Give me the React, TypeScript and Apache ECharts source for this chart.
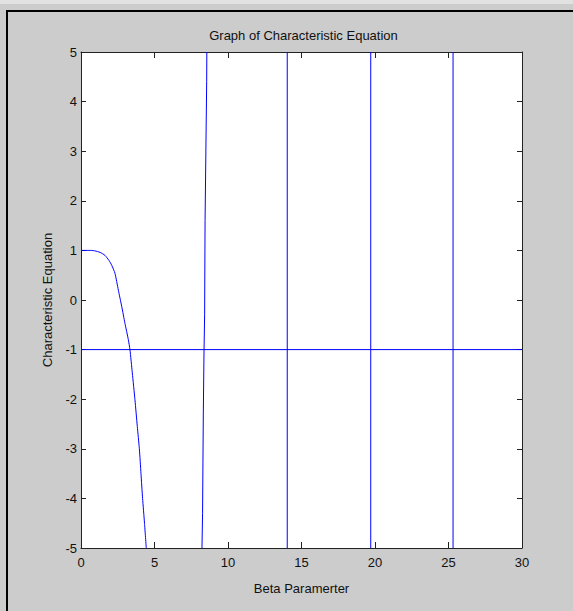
import React, { useEffect, useRef } from "react";
import * as echarts from "echarts";

// Axis ticks
const xTicks = [0, 5, 10, 15, 20, 25, 30];
const yTicks = [-5, -4, -3, -2, -1, 0, 1, 2, 3, 4, 5];

// First branch (starts at 1, drops below -5)
const branch1X = [0, 0.7, 0.95, 1.3, 1.63, 1.9, 2.09, 2.31, 2.54, 2.77, 2.99, 3.22, 3.33, 3.49, 3.67, 3.83, 3.97, 4.08, 4.19, 4.32, 4.44];
const branch1Y = [1, 1, 0.99, 0.96, 0.9, 0.8, 0.7, 0.54, 0.2, -0.13, -0.47, -0.8, -1, -1.47, -2.01, -2.55, -3, -3.5, -4, -4.5, -5];

// Second branch (steep rise)
const branch2X = [8.23, 8.27, 8.32, 8.37, 8.41, 8.44, 8.55, 8.56];
const branch2Y = [-5, -4.3, -2.3, -1, -0.3, 1.6, 4.4, 5];

// Near-vertical branches
const verticalX = [14.03, 19.71, 25.31];

// Horizontal reference line value
const refLineY = -1;

const BLUE = "#0000ff";
const FONT = "Liberation Sans";

export default function App() {
  const ref = useRef<HTMLDivElement>(null);
  useEffect(() => {
    if (!ref.current) return;
    const chart = echarts.init(ref.current, null, { renderer: "svg" });
    const gridLeft = 81;
    const gridTop = 52;
    const gridW = 441;
    const gridH = 496;
    const lineSeries = (data: number[][], smooth = 0) => ({
      type: "line",
      data,
      smooth,
      showSymbol: false,
      symbol: "none",
      clip: true,
      lineStyle: { color: BLUE, width: 1 },
      itemStyle: { color: BLUE },
    });
    const series: any[] = [
      lineSeries(branch1X.map((x, i) => [x, branch1Y[i]]), 0.2),
      lineSeries(branch2X.map((x, i) => [x, branch2Y[i]])),
      ...verticalX.map((x) => lineSeries([[x, yTicks[0]], [x, yTicks[yTicks.length - 1]]])),
      lineSeries([[xTicks[0], refLineY], [xTicks[xTicks.length - 1], refLineY]]),
    ];
    const axisLine = { show: true, onZero: false, lineStyle: { color: "#222", width: 1 } };
    chart.setOption({
      animation: false,
      backgroundColor: "#cccccc",
      graphic: [
        { type: "rect", shape: { x: 0, y: 0, width: 573, height: 4 }, style: { fill: "#e2e2e2" }, silent: true },
        { type: "rect", shape: { x: 6, y: 10, width: 567, height: 2 }, style: { fill: "#000" }, silent: true },
        { type: "rect", shape: { x: 6, y: 10, width: 2, height: 601 }, style: { fill: "#000" }, silent: true },
      ],
      title: {
        text: "Graph of Characteristic Equation",
        left: gridLeft + gridW / 2 - 3,
        textAlign: "center",
        top: 24,
        textStyle: { fontFamily: FONT, fontSize: 13, fontWeight: "normal", color: "#111" },
      },
      grid: {
        left: gridLeft,
        top: gridTop,
        width: gridW,
        height: gridH,
        show: true,
        backgroundColor: "#ffffff",
        borderWidth: 0,
      },
      xAxis: [
        {
          type: "value",
          min: 0,
          max: 30,
          interval: 5,
          position: "bottom",
          name: "Beta Paramerter",
          nameLocation: "middle",
          nameGap: 34,
          nameTextStyle: { fontFamily: FONT, fontSize: 13, color: "#111" },
          axisLine,
          axisTick: { show: true, inside: true, length: 6, lineStyle: { color: "#222" } },
          axisLabel: { fontFamily: FONT, fontSize: 13, color: "#111", margin: 8 },
          splitLine: { show: false },
        },
        {
          type: "value",
          min: 0,
          max: 30,
          interval: 5,
          position: "top",
          axisLine,
          axisTick: { show: true, inside: true, length: 6, lineStyle: { color: "#222" } },
          axisLabel: { show: false },
          splitLine: { show: false },
        },
      ],
      yAxis: [
        {
          type: "value",
          min: -5,
          max: 5,
          interval: 1,
          position: "left",
          name: "Characteristic Equation",
          nameLocation: "middle",
          nameGap: 27,
          nameTextStyle: { fontFamily: FONT, fontSize: 13, color: "#111" },
          axisLine,
          axisTick: { show: true, inside: true, length: 5, lineStyle: { color: "#222" } },
          axisLabel: { fontFamily: FONT, fontSize: 13, color: "#111", margin: 4 },
          splitLine: { show: false },
        },
        {
          type: "value",
          min: -5,
          max: 5,
          interval: 1,
          position: "right",
          axisLine,
          axisTick: { show: true, inside: true, length: 5, lineStyle: { color: "#222" } },
          axisLabel: { show: false },
          splitLine: { show: false },
        },
      ],
      series,
    });
    return () => chart.dispose();
  }, []);
  return (
    <div
      ref={ref}
      style={{ position: "fixed", left: 0, top: 0, width: 573, height: 611 }}
    />
  );
}
